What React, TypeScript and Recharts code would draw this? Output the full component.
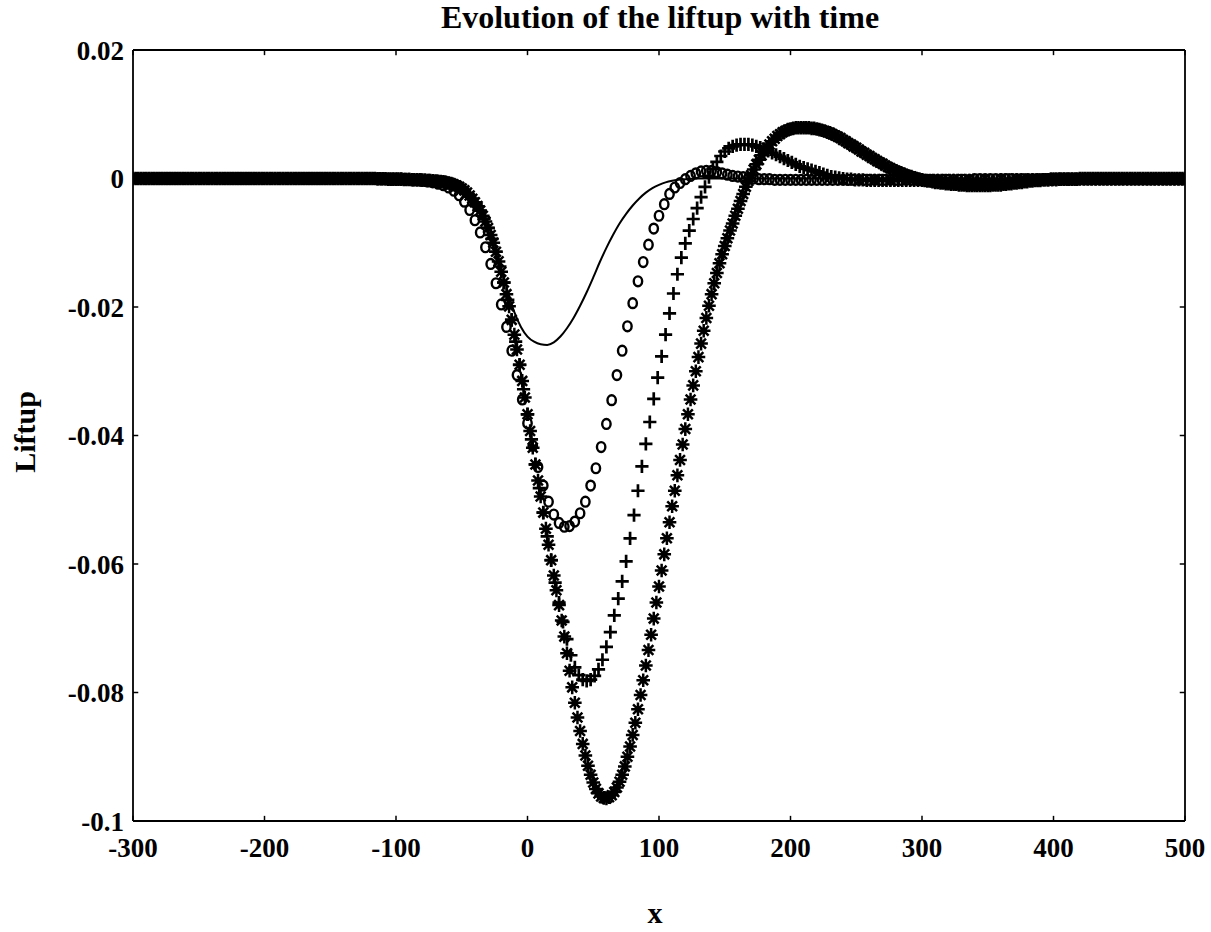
import React from 'react';
import { ComposedChart, Line, Scatter, XAxis, YAxis, ReferenceLine } from 'recharts';

// Liftup values are stored in units of 1e-3 (the y axis is labelled in real units)
const FONT = '"Liberation Serif", "Times New Roman", serif';

const xTicks = [-300, -200, -100, 0, 100, 200, 300, 400, 500];
const yTicks = [-100, -80, -60, -40, -20, 0, 20];
const yTickLabels = ['-0.1', '-0.08', '-0.06', '-0.04', '-0.02', '0', '0.02'];

// solid line (initial profile)
const lineX = [-300, -200, -120, -110, -100, -90, -80, -70, -60, -55, -50, -45, -40, -35, -30, -25, -20, -15, -10, -5,
  0, 5, 10, 15, 20, 25, 30, 35, 40, 45, 50, 55, 60, 65, 70, 75, 80, 85, 90, 95,
  100, 105, 110, 115, 120, 130, 140, 150, 200, 300, 400, 500];
const lineY = [0, 0, 0, -0.05, -0.1, -0.15, -0.25, -0.45, -0.9, -1.3, -1.9, -2.8, -4.1, -5.9, -8.2, -11.0, -14.2, -17.6, -20.8, -23.1,
  -24.6, -25.4, -25.8, -25.9, -25.5, -24.6, -23.3, -21.7, -19.8, -17.7, -15.4, -13.0, -10.8, -8.8, -7.0, -5.5, -4.2, -3.1, -2.2, -1.5,
  -1.0, -0.6, -0.35, -0.2, -0.1, 0, 0, 0, 0, 0, 0, 0];

// 'o' markers, sampled every 4 from x = -300
const circleStart = -300;
const circleStep = 4;
const circleY = [
  0, 0, 0, 0, 0, 0, 0, 0, 0, 0,
  0, 0, 0, 0, 0, 0, 0, 0, 0, 0,
  0, 0, 0, 0, 0, 0, 0, 0, 0, 0,
  0, 0, 0, 0, 0, 0, 0, 0, 0, 0,
  0, 0, 0, 0, 0, 0, -0.05, -0.05, -0.05, -0.1,
  -0.1, -0.12, -0.15, -0.2, -0.25, -0.35, -0.45, -0.6, -0.8, -1.05,
  -1.4, -1.9, -2.6, -3.6, -4.9, -6.5, -8.4, -10.7, -13.3, -16.3,
  -19.6, -23.1, -26.8, -30.6, -34.4, -38.1, -41.6, -44.9, -47.8, -50.3,
  -52.3, -53.6, -54.2, -54.1, -53.4, -52.1, -50.3, -47.8, -45.1, -41.8,
  -38.2, -34.5, -30.6, -26.8, -23.0, -19.4, -16.0, -13.0, -10.3, -7.8,
  -5.8, -4.0, -2.4, -1.4, -0.7, -0.1, 0.4, 0.8, 1.1, 1.2,
  1.2, 1.0, 0.8, 0.6, 0.4, 0.3, 0.2, 0.1, 0, -0.1,
  -0.1, -0.1, -0.2, -0.2, -0.2, -0.2, -0.2, -0.2, -0.2, -0.2,
  -0.2, -0.2, -0.2, -0.2, -0.2, -0.2, -0.2, -0.2, -0.2, -0.2,
  -0.2, -0.2, -0.2, -0.2, -0.2, -0.2, -0.2, -0.2, -0.2, -0.2,
  -0.2, -0.2, -0.2, -0.2, -0.2, -0.2, -0.2, -0.2, -0.2, -0.2,
  -0.1, -0.1, -0.1, -0.1, -0.1, -0.1, -0.1, -0.1, -0.1, -0.1,
  -0.1, -0.1, -0.1, -0.1, -0.1, -0.1, -0.1, -0.1, -0.1, -0.1,
  -0.1, -0.1, -0.1, -0.1, -0.1, -0.1, -0.1, -0.1, -0.1, -0.1,
  -0.1, -0.1, -0.1, -0.1, -0.1, -0.1, -0.1, -0.1, -0.1, -0.1,
  -0.1,
];

// '+' markers, sampled every 3 from x = -300
const plusStart = -300;
const plusStep = 3;
const plusY = [
  0, 0, 0, 0, 0, 0, 0, 0, 0, 0,
  0, 0, 0, 0, 0, 0, 0, 0, 0, 0,
  0, 0, 0, 0, 0, 0, 0, 0, 0, 0,
  0, 0, 0, 0, 0, 0, 0, 0, 0, 0,
  0, 0, 0, 0, 0, 0, 0, 0, 0, 0,
  0, 0, 0, 0, 0, 0, 0, 0, 0, 0,
  0, 0, -0.05, -0.05, -0.05, -0.1, -0.1, -0.1, -0.1, -0.15,
  -0.15, -0.2, -0.2, -0.22, -0.26, -0.3, -0.35, -0.4, -0.47, -0.55,
  -0.7, -0.88, -1.1, -1.42, -1.85, -2.42, -3.15, -4.0, -5.0, -6.25,
  -7.7, -9.4, -11.4, -13.7, -16.2, -18.9, -22.0, -25.4, -29.0, -32.8,
  -36.7, -40.6, -44.5, -48.2, -52.0, -55.7, -59.4, -62.9, -66.0, -69.0,
  -71.7, -74.2, -76.1, -77.3, -78.0, -78.2, -78.0, -77.4, -76.4, -74.9,
  -72.9, -70.6, -68.0, -65.4, -62.7, -59.6, -56.0, -52.4, -48.6, -44.8,
  -41.3, -37.9, -34.3, -31.0, -27.7, -24.3, -21.0, -17.9, -14.9, -12.3,
  -10.1, -8.1, -6.3, -4.6, -2.9, -1.3, 0.2, 1.5, 2.6, 3.5,
  4.2, 4.7, 5.0, 5.2, 5.3, 5.3, 5.3, 5.2, 5.0, 4.8,
  4.6, 4.3, 4.0, 3.7, 3.4, 3.1, 2.8, 2.5, 2.2, 1.9,
  1.7, 1.5, 1.3, 1.1, 0.9, 0.7, 0.5, 0.3, 0.2, 0.1,
  0, -0.1, -0.1, -0.2, -0.2, -0.2, -0.3, -0.3, -0.3, -0.3,
  -0.3, -0.3, -0.3, -0.3, -0.3, -0.3, -0.3, -0.3, -0.3, -0.3,
  -0.3, -0.3, -0.3, -0.3, -0.3, -0.3, -0.3, -0.3, -0.3, -0.3,
  -0.3, -0.3, -0.3, -0.3, -0.3, -0.3, -0.3, -0.3, -0.3, -0.3,
  -0.2, -0.2, -0.2, -0.2, -0.2, -0.2, -0.2, -0.2, -0.2, -0.2,
  -0.2, -0.2, -0.2, -0.2, -0.2, -0.1, -0.1, -0.1, -0.1, -0.1,
  -0.1, -0.1, -0.1, -0.1, -0.1, -0.1, -0.1, -0.1, -0.1, -0.1,
  -0.1, -0.1, -0.1, -0.1, -0.1, -0.1, -0.1, -0.1, -0.1, -0.1,
  -0.1, -0.1, -0.1, -0.1, -0.1, -0.1, -0.1,
];

// '*' markers, sampled every 2 from x = -300
const starStart = -300;
const starStep = 2;
const starY = [
  0, 0, 0, 0, 0, 0, 0, 0, 0, 0,
  0, 0, 0, 0, 0, 0, 0, 0, 0, 0,
  0, 0, 0, 0, 0, 0, 0, 0, 0, 0,
  0, 0, 0, 0, 0, 0, 0, 0, 0, 0,
  0, 0, 0, 0, 0, 0, 0, 0, 0, 0,
  0, 0, 0, 0, 0, 0, 0, 0, 0, 0,
  0, 0, 0, 0, 0, 0, 0, 0, 0, 0,
  0, 0, 0, 0, 0, 0, 0, 0, 0, 0,
  0, 0, 0, 0, 0, 0, 0, 0, 0, 0,
  0, 0, 0, -0.05, -0.05, -0.05, -0.05, -0.1, -0.1, -0.1,
  -0.1, -0.1, -0.1, -0.15, -0.15, -0.15, -0.2, -0.2, -0.2, -0.22,
  -0.25, -0.27, -0.3, -0.32, -0.35, -0.38, -0.42, -0.47, -0.52, -0.6,
  -0.7, -0.8, -0.95, -1.1, -1.3, -1.55, -1.85, -2.2, -2.65, -3.15,
  -3.7, -4.3, -5.0, -5.8, -6.7, -7.7, -8.8, -10.0, -11.4, -12.9,
  -14.5, -16.2, -18.0, -19.9, -22.0, -24.3, -26.6, -29.0, -31.5, -34.1,
  -36.7, -39.3, -41.9, -44.5, -47.0, -49.5, -52.0, -54.5, -57.0, -59.4,
  -61.8, -64.1, -66.4, -68.8, -71.3, -73.9, -76.6, -79.2, -81.6, -83.9,
  -86.0, -88.0, -89.8, -91.4, -92.8, -94.0, -95.0, -95.7, -96.2, -96.4,
  -96.5, -96.3, -96.0, -95.5, -94.8, -93.9, -92.8, -91.5, -90.0, -88.4,
  -86.6, -84.7, -82.6, -80.4, -78.1, -75.8, -73.4, -71.0, -68.5, -66.0,
  -63.5, -61.0, -58.5, -56.0, -53.5, -51.0, -48.6, -46.2, -43.8, -41.4,
  -39.0, -36.7, -34.4, -32.2, -30.0, -27.8, -25.7, -23.7, -21.7, -19.8,
  -18.0, -16.3, -14.7, -13.2, -11.8, -10.5, -9.3, -8.1, -7.0, -5.8,
  -4.7, -3.5, -2.4, -1.3, -0.4, 0.5, 1.4, 2.2, 2.9, 3.6,
  4.2, 4.8, 5.3, 5.8, 6.2, 6.6, 6.9, 7.2, 7.4, 7.6,
  7.7, 7.8, 7.9, 7.9, 7.9, 7.9, 7.9, 7.9, 7.8, 7.8,
  7.7, 7.6, 7.5, 7.4, 7.2, 7.1, 6.9, 6.7, 6.5, 6.3,
  6.0, 5.8, 5.5, 5.3, 5.0, 4.8, 4.5, 4.2, 4.0, 3.7,
  3.5, 3.2, 3.0, 2.7, 2.5, 2.3, 2.0, 1.8, 1.6, 1.4,
  1.2, 1.0, 0.9, 0.7, 0.5, 0.4, 0.3, 0.1, 0.0, -0.1,
  -0.2, -0.3, -0.4, -0.4, -0.5, -0.6, -0.6, -0.7, -0.7, -0.8,
  -0.8, -0.9, -0.9, -0.9, -1.0, -1.0, -1.0, -1.1, -1.1, -1.1,
  -1.1, -1.1, -1.1, -1.1, -1.1, -1.1, -1.1, -1.0, -1.0, -1.0,
  -1.0, -0.9, -0.9, -0.8, -0.8, -0.7, -0.7, -0.6, -0.6, -0.5,
  -0.5, -0.4, -0.4, -0.3, -0.3, -0.3, -0.2, -0.2, -0.2, -0.1,
  -0.1, -0.1, -0.1, -0.1, -0.1, -0.1, -0.1, -0.1, -0.1, -0.1,
  0, 0, 0, 0, 0, 0, 0, 0, 0, 0,
  0, 0, 0, 0, 0, 0, 0, 0, 0, 0,
  0, 0, 0, 0, 0, 0, 0, 0, 0, 0,
  0, 0, 0, 0, 0, 0, 0, 0, 0, 0,
  0,
];

const X_MIN = -300, X_MAX = 500, Y_MIN = -100, Y_MAX = 20;
const TICK_X = 4; // tick length in x units
const TICK_Y = 0.8; // tick length in y units

const onGrid = (start: number, step: number, ys: number[]) => ys.map((y, i) => ({ x: start + i * step, y }));

const lineData = lineX.map((x, i) => ({ x, y: lineY[i] }));
const circleData = onGrid(circleStart, circleStep, circleY);
const plusData = onGrid(plusStart, plusStep, plusY);
const starData = onGrid(starStart, starStep, starY);

const CircleMark = (p: any) => (
  <ellipse cx={p.cx} cy={p.cy} rx={4.2} ry={4.9} fill="none" stroke="#000" strokeWidth={2.4} />
);

const PlusMark = (p: any) => {
  const s = 6.6;
  return <path d={`M${p.cx - s},${p.cy}H${p.cx + s}M${p.cx},${p.cy - s}V${p.cy + s}`} stroke="#000" strokeWidth={2.7} fill="none" />;
};

const StarMark = (p: any) => {
  const s = 6.8;
  const d = s * 0.72;
  const { cx, cy } = p;
  return (
    <path
      d={`M${cx - s},${cy}H${cx + s}M${cx},${cy - s}V${cy + s}M${cx - d},${cy - d}L${cx + d},${cy + d}M${cx - d},${cy + d}L${cx + d},${cy - d}`}
      stroke="#000"
      strokeWidth={2.5}
      fill="none"
    />
  );
};

const tickStyle = { fill: '#000', fontSize: 27, fontWeight: 700, fontFamily: FONT };
const textStyle: React.CSSProperties = {
  position: 'absolute',
  fontFamily: FONT,
  fontWeight: 700,
  color: '#000',
  whiteSpace: 'nowrap',
  lineHeight: 1,
  transform: 'translate(-50%, -50%)',
};

const App = () => {
  return (
    <div style={{ position: 'absolute', left: 0, top: 0, width: 1211, height: 932, background: '#fff' }}>
      <ComposedChart width={1211} height={932} margin={{ top: 50, right: 26, bottom: 51, left: 33 }}>
        <XAxis
          type="number"
          dataKey="x"
          domain={[X_MIN, X_MAX]}
          ticks={xTicks}
          interval={0}
          allowDataOverflow
          tickLine={false}
          axisLine={false}
          tickSize={0}
          tickMargin={17}
          height={60}
          tick={tickStyle}
        />
        <YAxis
          type="number"
          dataKey="y"
          domain={[Y_MIN, Y_MAX]}
          ticks={yTicks}
          interval={0}
          allowDataOverflow
          tickLine={false}
          axisLine={false}
          tickSize={0}
          tickMargin={9}
          width={100}
          tick={tickStyle}
          tickFormatter={(v: number) => yTickLabels[yTicks.indexOf(v)]}
        />

        {/* frame */}
        <ReferenceLine x={X_MIN} stroke="#000" strokeWidth={1.8} />
        <ReferenceLine x={X_MAX} stroke="#000" strokeWidth={1.8} />
        <ReferenceLine y={Y_MIN} stroke="#000" strokeWidth={1.8} />
        <ReferenceLine y={Y_MAX} stroke="#000" strokeWidth={1.8} />

        {/* inward ticks on all four sides */}
        {xTicks.map((t) => (
          <ReferenceLine key={'b' + t} segment={[{ x: t, y: Y_MIN }, { x: t, y: Y_MIN + TICK_Y }]} stroke="#000" strokeWidth={1.5} />
        ))}
        {xTicks.map((t) => (
          <ReferenceLine key={'t' + t} segment={[{ x: t, y: Y_MAX }, { x: t, y: Y_MAX - TICK_Y }]} stroke="#000" strokeWidth={1.5} />
        ))}
        {yTicks.map((t) => (
          <ReferenceLine key={'l' + t} segment={[{ x: X_MIN, y: t }, { x: X_MIN + TICK_X, y: t }]} stroke="#000" strokeWidth={1.5} />
        ))}
        {yTicks.map((t) => (
          <ReferenceLine key={'r' + t} segment={[{ x: X_MAX, y: t }, { x: X_MAX - TICK_X, y: t }]} stroke="#000" strokeWidth={1.5} />
        ))}

        <Line
          data={lineData}
          dataKey="y"
          type="monotone"
          stroke="#000"
          strokeWidth={2}
          dot={false}
          activeDot={false}
          isAnimationActive={false}
        />
        <Scatter data={circleData} dataKey="y" shape={CircleMark} isAnimationActive={false} />
        <Scatter data={plusData} dataKey="y" shape={PlusMark} isAnimationActive={false} />
        <Scatter data={starData} dataKey="y" shape={StarMark} isAnimationActive={false} />
      </ComposedChart>

      <div style={{ ...textStyle, left: 660, top: 17, fontSize: 32 }}>Evolution of the liftup with time</div>
      <div style={{ ...textStyle, left: 25, top: 432, fontSize: 30, transform: 'translate(-50%, -50%) rotate(-90deg)' }}>Liftup</div>
      <div style={{ ...textStyle, left: 655, top: 913, fontSize: 30 }}>x</div>
    </div>
  );
};

export default App;
